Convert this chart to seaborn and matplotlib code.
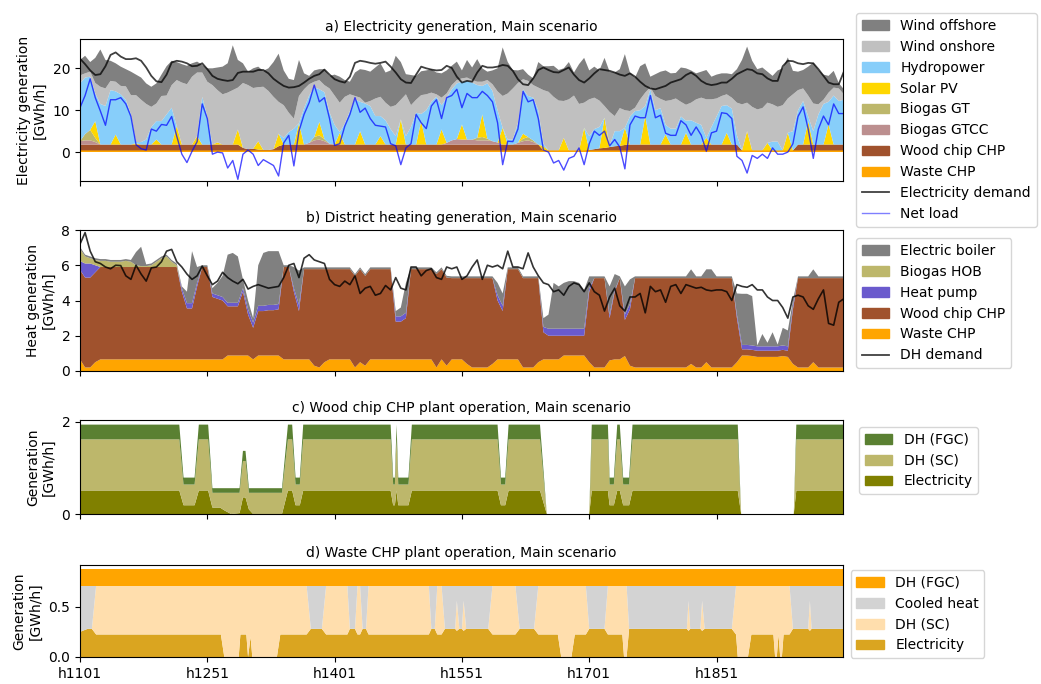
import numpy as np
import matplotlib
matplotlib.use("Agg")
import matplotlib.pyplot as plt
from matplotlib.patches import Patch
from matplotlib.lines import Line2D
import seaborn as sns

# ---------------------------------------------------------------------------
# data at 6-hour steps (h1101 ... h2001)
# ---------------------------------------------------------------------------
hours = list(range(1101, 2002, 6))

# panel a: electricity (GWh/h)
waste_el = [0.4] * 151
wood_el = [
    1.4, 1.4, 1.4, 1.4, 1.4, 1.4, 1.4, 1.4, 1.4, 1.4,
    1.4, 1.4, 1.4, 1.4, 1.4, 1.4, 1.4, 1.4, 1.4, 1.4,
    1.4, 1.4, 1.4, 1.4, 1.4, 1.4, 1.4, 1.4, 1.4, 1.4,
    1.4, 1.4, 0.6, 0.3, 0.4, 0.2, 0.1, 0.1, 0.3, 1.0,
    1.4, 1.4, 1.4, 1.4, 1.4, 1.4, 1.4, 1.4, 1.4, 1.4,
    1.4, 1.4, 1.4, 1.4, 1.4, 1.4, 1.4, 1.4, 1.4, 1.4,
    1.4, 1.4, 1.4, 1.4, 1.4, 1.4, 1.4, 1.4, 1.4, 1.4,
    1.4, 1.4, 1.4, 1.4, 1.4, 1.4, 1.4, 1.4, 1.4, 1.4,
    1.4, 1.4, 1.4, 1.4, 1.4, 1.4, 1.4, 1.4, 1.4, 1.4,
    1.4, 0.0, 0.0, 0.0, 0.0, 0.0, 0.0, 0.0, 0.0, 0.0,
    0.1, 0.3, 0.5, 0.6, 0.8, 1.0, 1.1, 1.3, 1.4, 1.4,
    1.4, 1.4, 1.4, 1.4, 1.4, 1.4, 1.4, 1.4, 1.4, 1.4,
    1.4, 1.4, 1.4, 1.4, 1.4, 1.4, 1.4, 1.4, 1.4, 1.4,
    0.0, 0.0, 0.0, 0.0, 0.0, 0.0, 0.0, 0.0, 0.0, 0.0,
    0.0, 1.4, 1.4, 1.4, 1.4, 1.4, 1.4, 1.4, 1.4, 1.4,
    1.4]
gtcc_el = [
    0.8, 1.0, 1.0, 0.6, 0, 0, 0, 0, 0, 0,
    0, 0, 0, 0, 0, 0, 0, 0, 0, 0,
    0, 0, 0, 0, 0, 0, 0, 0, 0, 0,
    0, 0, 0, 0, 0, 0, 0, 0, 0, 0,
    0, 0, 0, 0, 0, 0.4, 1.0, 1.2, 0.8, 0.2,
    0, 0, 0, 0, 0, 0, 0, 0, 0, 0,
    0, 0, 0, 0, 0, 0, 0, 0, 0, 0,
    0, 0, 0.4, 1.0, 1.3, 1.2, 1.2, 1.2, 1.0, 1.0,
    1.0, 0.8, 0.5, 0, 0, 0, 0.4, 0.8, 1.0, 0.6,
    0, 0, 0, 0, 0, 0, 0, 0, 0, 0,
    0, 0, 0, 0, 0, 0, 0, 0, 0, 0,
    0, 0, 0, 0, 0, 0, 0, 0, 0, 0,
    0, 0, 0, 0, 0, 0, 0, 0, 0, 0,
    0, 0, 0, 0, 0, 0, 0, 0, 0, 0,
    0, 0, 0, 0, 0, 0, 0, 0, 0, 0,
    0]
gt_el = [
    0, 1.5, 2.5, 1.0, 0, 0, 0, 0, 0, 0,
    0, 0, 0, 0, 0, 0, 0, 0, 0, 0,
    0, 0, 0, 0, 0, 0, 0, 0, 0, 0,
    0, 0, 0, 0, 0, 0, 0, 0, 0, 0,
    0, 0, 0, 0, 0, 0, 0.8, 1.0, 0.5, 0,
    0, 0, 0, 0, 0, 0, 0, 0, 0, 0,
    0, 0, 0, 0, 0, 0, 0, 0, 0, 0,
    0, 0, 0, 0, 0, 0, 0, 0, 0.6, 0.8,
    0.4, 0, 0, 0, 0, 0, 0, 0.6, 0.8, 0.4,
    0, 0, 0, 0, 0, 0, 0, 0, 0, 0,
    0, 0, 0, 0, 0, 0, 0, 0, 0, 0,
    0, 0, 0, 0, 0, 0, 0, 0, 0, 0,
    0, 0, 0, 0, 0, 0, 0, 0, 0, 0,
    0, 0, 0, 0, 0, 0, 0, 0, 0, 0,
    0, 0, 0, 0, 0, 0, 0, 0, 0, 0,
    0]
solar_el = [
    0, 0, 0, 4.0, 0, 0, 0, 2.4, 0, 0,
    0, 0.3, 0, 0, 0, 1.2, 0, 0, 0, 4.4,
    0, 0, 0, 2.0, 0, 0, 0, 0.5, 0, 0,
    0, 3.6, 0, 0, 0, 2.0, 0, 0, 0, 3.0,
    0, 0, 0, 5.1, 0, 0, 0, 3.2, 0, 0,
    0, 2.8, 0, 0, 0, 3.2, 0, 0, 0, 2.0,
    0, 0, 0, 6.0, 0, 0, 0, 5.6, 0, 0,
    0, 3.6, 0, 0, 0, 3.6, 0, 0, 0, 5.4,
    0, 0, 0, 4.0, 0, 0, 0, 1.2, 0, 0,
    0, 1.0, 0, 0, 0, 3.0, 0, 0, 0, 5.4,
    0, 0, 0, 7.2, 0, 0, 0, 4.1, 0, 0,
    0, 6.8, 0, 0, 0, 2.4, 0, 0, 0, 2.8,
    0, 0, 0, 1.6, 0, 0, 0, 2.8, 0, 0,
    0, 4.6, 0, 0, 0, 1.8, 0, 0, 0, 4.2,
    0, 0, 0, 5.6, 0, 0, 0, 4.8, 0, 0,
    0]
# upper edges of the hydro, onshore and offshore bands
hydro_top = [
    16.4, 17.8, 18.0, 14, 11.5, 11, 14.8, 14.5, 13.8, 12.5,
    9, 2.4, 2.4, 3, 6, 7.4, 7.4, 9, 10.6, 4,
    1.8, 1.8, 1.8, 3, 13.2, 8.5, 0, 0, 0, 0,
    0, 0, 0, 0, 0, 0, 0, 0, 0, 0,
    3.4, 4.8, 5.6, 6.5, 10.5, 13.5, 15.5, 15, 14.3, 9.5,
    6.5, 4.8, 6.8, 9.8, 12.6, 12, 11.6, 11, 8.6, 8.6,
    7.6, 5.5, 3.8, 3.8, 3.8, 6, 9.4, 9.1, 10, 12,
    13.2, 11.2, 13, 15, 16.4, 16.8, 17, 16.6, 16, 15.8,
    16.4, 14.6, 10, 1.4, 3, 3, 7, 15, 13.4, 13,
    10, 2, 0, 0, 0, 0, 0, 0, 0, 0,
    3.8, 5.5, 6, 6, 1.5, 5, 5, 1.5, 8.5, 9.8,
    10, 11, 15, 10, 10.5, 6.5, 5.6, 5.6, 8.5, 7.5,
    7.6, 7, 6.5, 2.5, 6, 8.5, 11, 11.2, 10.4, 4,
    0, 0, 0, 0, 0, 0, 2.5, 2.5, 0, 0,
    5, 10, 12.2, 8.5, 5, 9, 11.5, 12, 13.5, 12.2,
    12.5]
onshore_top = [
    18.3, 18.8, 19.2, 16.5, 15.6, 15.2, 17, 16.8, 15.8, 15.7,
    13.6, 13.6, 12.5, 11.5, 10.8, 11.6, 13.4, 13.5, 16, 17.2,
    16.6, 16.2, 18, 19, 19, 16.8, 16, 14.8, 13.8, 14.2,
    14.8, 15.4, 16.5, 16, 15.3, 15.5, 15.6, 14.6, 13.2, 12,
    11.2, 9.4, 8.0, 13.4, 15, 16.2, 16.8, 17.2, 16, 15.2,
    13.5, 11.8, 13.2, 13.8, 13.4, 13, 11.8, 12.2, 12.8, 13.2,
    11.8, 10.8, 11.2, 12.5, 13.8, 11.2, 12.5, 13.6, 13.8, 14.2,
    13.8, 13, 14.0, 16, 17.2, 17.6, 17.8, 17.2, 16.8, 16.8,
    17.2, 16.2, 14.5, 13.4, 14, 15.2, 16.5, 17.4, 17, 16,
    15.4, 14.8, 14.4, 13.2, 12.3, 12.2, 12.6, 13.5, 11.5, 11.8,
    12.6, 13, 12.3, 11, 9.6, 8.6, 10.5, 10, 9.8, 10.6,
    12.6, 14.2, 15.5, 13.4, 12.7, 12.2, 12.4, 12.8, 12, 11.3,
    11.8, 12.6, 13, 12.6, 12.6, 12.8, 13.4, 13.8, 13, 11.8,
    11.4, 11.8, 10.8, 10.2, 10.5, 11.8, 11.4, 10.8, 11.2, 12.8,
    13.8, 14.8, 15.2, 13.5, 11.6, 11.4, 12.5, 14.2, 15.4, 15.2,
    13.8]
total_top = [
    22, 23, 21.5, 22.5, 24.5, 22, 21.8, 21.2, 20.4, 19.8,
    19.2, 18.5, 17.8, 16.4, 15.6, 16.4, 18.5, 20.5, 21.8, 21.5,
    21, 20.6, 21.2, 21.6, 20.8, 20, 20, 20.2, 20.4, 21.2,
    25.5, 22, 21.2, 19.2, 20, 20.4, 19.4, 20, 21.5, 23.5,
    19.5, 17.5, 17.2, 22, 18.8, 18.2, 19.5, 19.8, 19.8, 18.2,
    18.5, 18, 17.2, 16.8, 19, 19.8, 19.6, 19.2, 20.2, 21.2,
    19, 19.5, 23, 21.5, 18.6, 18.4, 18.2, 19.3, 19.5, 19.8,
    19, 18.8, 19.5, 20.6, 21.6, 19.5, 22, 20.2, 22.2, 20,
    19.2, 19.5, 20, 25, 21.5, 19.6, 19.5, 19.8, 18.5, 17.6,
    21.5, 20.5, 20.5, 20.6, 19.6, 20, 21.5, 19, 21, 22.5,
    19.5, 20.4, 19.5, 22.5, 19.2, 19, 19.8, 23.4, 19, 17.8,
    20.5, 21.2, 18, 18.6, 19.2, 19.5, 18.8, 18.9, 20.2, 20,
    19.5, 18.8, 19.2, 19.6, 18, 18.5, 18.8, 18.8, 18.6, 19.8,
    22, 25.2, 21.8, 19.8, 20.2, 19.2, 18.2, 19.5, 20, 22.6,
    19.4, 19.2, 19.6, 20.4, 21.4, 19.6, 18.5, 18.2, 19.4, 16.5,
    15]
el_demand = [
    22.3, 21, 19.5, 18.4, 18.6, 20.5, 23.2, 23.8, 22.8, 22.2,
    22.2, 22.4, 21.8, 20.2, 18.2, 16.9, 16.7, 18.5, 21.4, 21.8,
    21.6, 21.2, 20.5, 20.6, 21.2, 19.8, 18.2, 17.5, 17.2, 17.0,
    17.2, 18.9, 19.2, 19.2, 19.2, 19.6, 19.6, 18.8, 17.5, 16.6,
    15.8, 15.4, 15.5, 15.8, 16.6, 17.5, 18.2, 18.6, 19.7, 18.5,
    17.4, 16.9, 16.6, 18, 21.3, 21.8, 21.6, 21.3, 21.1, 21.3,
    21.6, 20.4, 19, 17.4, 16.6, 16.5, 18.5, 20.4, 20, 19.7,
    19.5, 19.6, 20.6, 20.1, 18, 16.6, 17.0, 16.8, 19.0, 20.6,
    20.2, 20.2, 20.4, 20.8, 20.6, 19.4, 17.4, 16.2, 16.0, 17.6,
    19.6, 20.2, 19.6, 19.1, 19.0, 19.6, 20.2, 18.5, 17.2, 16.6,
    17.6, 18.8, 19.8, 19.6, 19.4, 19.0, 18.5, 18.2, 18.8, 18.0,
    16.8, 15.8, 15.2, 15.0, 15.4, 15.8, 16.6, 17.0, 17.4, 18.4,
    19.0, 18.2, 17.0, 16.3, 16.0, 16.2, 16.6, 16.6, 17.5, 18.6,
    19.2, 19.8, 19.6, 18.8, 18.6, 17.6, 17.0, 17.0, 20.5, 21.8,
    21.7, 21.2, 21.0, 21.3, 21.2, 19.8, 18.2, 16.6, 16.2, 16.2,
    19.2]
net_load = [
    10.6, 13.5, 17.5, 13, 9.8, 6.4, 12.5, 12.5, 13, 11.5,
    8.5, 1.8, 0.8, 0.5, 5.5, 5, 6.6, 6.4, 8.5, 3.8,
    -0.5, -2.5, 0.2, 2.5, 11.5, 8, -0.5, 0.0, -0.2, -3.8,
    -2, -6.5, -0.5, 0.5, -0.5, -3.2, -1.8, -2.5, -3.2, -5.7,
    2.2, 4, -3.3, 5, 9, 11.8, 16, 12, 13, 8,
    1.6, 2, 6.2, 9, 13, 9.5, 10.5, 8, 6.4, 6.2,
    6, 2, 1.5, -3, 1, 2, 9, 7, 5.6, 11,
    12.5, 8, 13, 13.5, 15, 10.6, 14, 13, 13, 14.5,
    13.5, 12, 7, -3, 2.6, 2.5, 5.5, 14.5, 12, 12.5,
    8, 0.5, 0, -2.6, -2, -4.3, -1.5, -1, 1, -3,
    2, 5, 4, 5, 1.5, 3, 1.2, -4, 6.5, 8.6,
    8.2, 8.2, 13.5, 8.2, 8.8, 4.5, 4, 4, 7.5, 6.5,
    4, 6, 4, 0.2, 4.6, 5, 9.4, 9.2, 8, -1,
    -2, -5, -0.8, -1.5, -0.5, -1.5, 1, -0.5, -0.5, 0,
    2, 8.5, 10.8, 5.5, -1.5, 5.5, 8.6, 6.5, 11.5, 9.2,
    9.2]

# panel b: district heating (GWh/h)
waste_dh = [
    0.66, 0.2, 0.2, 0.5, 0.66, 0.66, 0.66, 0.66, 0.66, 0.66,
    0.66, 0.66, 0.66, 0.66, 0.66, 0.66, 0.66, 0.66, 0.66, 0.66,
    0.66, 0.66, 0.66, 0.66, 0.66, 0.66, 0.66, 0.66, 0.66, 0.88,
    0.88, 0.88, 0.88, 0.88, 0.66, 0.88, 0.88, 0.88, 0.88, 0.88,
    0.66, 0.66, 0.66, 0.66, 0.66, 0.66, 0.3, 0.2, 0.5, 0.66,
    0.66, 0.66, 0.66, 0.66, 0.2, 0.5, 0.3, 0.66, 0.66, 0.66,
    0.66, 0.66, 0.66, 0.66, 0.66, 0.66, 0.66, 0.66, 0.66, 0.66,
    0.2, 0.66, 0.3, 0.66, 0.66, 0.66, 0.4, 0.2, 0.2, 0.2,
    0.2, 0.4, 0.66, 0.66, 0.66, 0.66, 0.66, 0.2, 0.2, 0.2,
    0.5, 0.66, 0.66, 0.66, 0.66, 0.88, 0.88, 0.88, 0.88, 0.88,
    0.5, 0.2, 0.2, 0.2, 0.6, 0.66, 0.66, 0.85, 0.3, 0.2,
    0.2, 0.2, 0.2, 0.2, 0.2, 0.2, 0.2, 0.2, 0.2, 0.2,
    0.4, 0.2, 0.2, 0.5, 0.2, 0.2, 0.2, 0.2, 0.2, 0.5,
    0.88, 0.88, 0.85, 0.8, 0.8, 0.8, 0.8, 0.8, 0.85, 0.8,
    0.4, 0.2, 0.2, 0.2, 0.5, 0.2, 0.2, 0.2, 0.2, 0.2,
    0.2]
wood_dh = [
    5.08, 5.1, 5.1, 5.1, 5.24, 5.24, 5.24, 5.24, 5.24, 5.24,
    5.24, 5.24, 5.24, 5.24, 5.24, 5.24, 5.24, 5.24, 5.24, 5.24,
    3.84, 2.89, 2.89, 4.14, 5.24, 5.24, 3.54, 3.44, 3.34, 2.79,
    2.79, 2.79, 3.62, 2.32, 1.79, 2.52, 2.52, 2.57, 2.57, 2.62,
    5.24, 5.24, 3.84, 2.74, 5.12, 5.12, 5.48, 5.58, 5.28, 5.12,
    5.12, 5.12, 5.12, 5.12, 5.2, 5.28, 5.1, 5.12, 5.12, 5.12,
    5.12, 5.12, 2.14, 2.14, 2.34, 5.12, 5.12, 5.12, 5.12, 5.12,
    5.3, 5.12, 5.0, 4.61, 4.61, 4.61, 4.87, 5.07, 5.07, 5.07,
    5.07, 4.87, 3.34, 2.74, 5.12, 5.12, 5.12, 5.07, 5.07, 5.07,
    4.77, 1.54, 1.34, 1.34, 1.34, 1.12, 1.12, 1.12, 1.12, 1.12,
    4.0, 5.07, 5.07, 5.07, 2.4, 3.84, 4.61, 2.05, 3.2, 5.07,
    5.07, 5.07, 5.07, 5.07, 5.07, 5.07, 5.07, 5.07, 5.07, 5.07,
    4.87, 5.07, 5.07, 4.77, 5.07, 5.07, 5.07, 5.07, 5.07, 2.5,
    0.35, 0.35, 0.35, 0.35, 0.35, 0.35, 0.35, 0.35, 0.35, 0.35,
    3.1, 5.07, 5.07, 5.07, 4.77, 5.07, 5.07, 5.07, 5.07, 5.07,
    5.07]
hp_dh = [
    0.5, 0.8, 0.8, 0.4, 0, 0, 0, 0, 0, 0,
    0, 0, 0, 0, 0, 0, 0, 0, 0, 0,
    0.2, 0.3, 0.3, 0.2, 0, 0, 0.2, 0.2, 0.2, 0.2,
    0.2, 0.2, 0.2, 0.3, 0.3, 0.3, 0.3, 0.3, 0.3, 0.3,
    0, 0, 0.2, 0.35, 0, 0, 0, 0, 0, 0,
    0, 0, 0, 0, 0, 0, 0, 0, 0, 0,
    0, 0, 0.3, 0.3, 0.3, 0, 0, 0, 0, 0,
    0, 0, 0, 0, 0, 0, 0, 0, 0, 0,
    0, 0, 0.3, 0.3, 0, 0, 0, 0, 0, 0,
    0, 0.3, 0.4, 0.4, 0.4, 0.4, 0.4, 0.4, 0.4, 0.4,
    0.2, 0, 0, 0, 0.2, 0.1, 0, 0.3, 0.3, 0,
    0, 0, 0, 0, 0, 0, 0, 0, 0, 0,
    0, 0, 0, 0, 0, 0, 0, 0, 0, 0.2,
    0.25, 0.25, 0.25, 0.25, 0.25, 0.25, 0.25, 0.25, 0.25, 0.25,
    0.2, 0, 0, 0, 0, 0, 0, 0, 0, 0,
    0]
hob_dh = [
    0.7, 0.4, 0.3, 0.3, 0.35, 0.35, 0.3, 0.3, 0.3, 0.35,
    0.3, 0.1, 0.05, 0.05, 0.1, 0.3, 0.5, 0.6, 0.3, 0.1,
    0, 0, 0, 0, 0, 0, 0, 0, 0, 0,
    0, 0, 0, 0, 0, 0, 0, 0, 0, 0,
    0, 0, 0, 0, 0, 0, 0, 0, 0, 0,
    0, 0, 0, 0, 0, 0, 0, 0, 0, 0,
    0, 0, 0, 0, 0, 0, 0, 0, 0, 0,
    0, 0, 0, 0, 0, 0, 0, 0, 0, 0,
    0, 0, 0, 0, 0, 0, 0, 0, 0, 0,
    0, 0, 0, 0, 0, 0, 0, 0, 0, 0,
    0, 0, 0, 0, 0, 0, 0, 0, 0, 0,
    0, 0, 0, 0, 0, 0, 0, 0, 0, 0,
    0, 0, 0, 0, 0, 0, 0, 0, 0, 0,
    0, 0, 0, 0, 0, 0, 0, 0, 0, 0,
    0, 0, 0, 0, 0, 0, 0, 0, 0, 0,
    0]
boiler_dh = [
    0.1, 0.1, 0.1, 0.1, 0.1, 0.1, 0.1, 0.1, 0.1, 0.1,
    0.1, 0.75, 1.1, 0.1, 0.1, 0.1, 0.1, 0.1, 0.1, 0.1,
    0.1, 0.65, 2.95, 0.9, 0.1, 0.1, 0.3, 0.7, 1.2, 2.73,
    2.83, 2.63, 0.5, 0.5, 0.25, 2.3, 3.0, 3.05, 3.05, 3.0,
    0.1, 0.1, 1.2, 1.95, 0.1, 0.1, 0.1, 0.1, 0.1, 0.1,
    0.1, 0.1, 0.1, 0.1, 0.1, 0.1, 0.1, 0.1, 0.1, 0.1,
    0.1, 0.1, 0.3, 0.5, 1.7, 0.1, 0.1, 0.1, 0.1, 0.1,
    0.1, 0.1, 0.1, 0.1, 0.1, 0.1, 0.1, 0.1, 0.1, 0.1,
    0.1, 0.1, 0.7, 0.7, 0.1, 0.1, 0.1, 0.1, 0.1, 0.1,
    0.1, 0.5, 0.8, 2.6, 2.4, 2.6, 2.7, 2.7, 2.6, 2.2,
    0.67, 0.1, 0.1, 0.1, 1.6, 0.9, 0.1, 1.6, 1.4, 0.1,
    0.1, 0.1, 0.1, 0.1, 0.1, 0.1, 0.1, 0.1, 0.1, 0.1,
    0.5, 0.1, 0.1, 0.5, 0.5, 0.1, 0.1, 0.1, 0.1, 1.2,
    2.9, 2.9, 2.8, 0.05, 0.7, 0.2, 0.8, 0.1, 1.0, 0.9,
    0.3, 0.1, 0.1, 0.1, 0.5, 0.1, 0.1, 0.1, 0.1, 0.1,
    0.1]
dh_demand = [
    7.2, 7.85, 6.8, 6.2, 6.1, 5.9, 5.8, 6.0, 5.98, 5.4,
    5.2, 6.0, 5.5, 5.1, 5.85, 5.9, 6.2, 6.8, 6.9, 6.2,
    5.9, 5.5, 5.2, 5.4, 5.95, 5.4, 4.9, 5.1, 5.6, 5.3,
    5.1, 4.95, 5.2, 4.65, 4.8, 4.9, 4.8, 4.7, 4.75, 4.8,
    5.3, 6.0, 6.1, 5.3, 6.4, 6.6, 6.3, 6.2, 6.1, 5.2,
    4.9, 4.8, 5.1, 4.9, 5.4, 4.4, 4.7, 4.8, 4.3, 4.4,
    4.85, 4.6, 5.3, 4.7, 4.6, 5.9, 5.9, 5.4, 5.7, 5.8,
    5.3, 5.2, 5.9, 5.8, 5.9, 5.2, 5.4, 5.9, 6.3, 5.2,
    6.0, 5.9, 6.0, 5.8, 6.8, 5.9, 5.9, 5.8, 6.7, 5.9,
    5.4, 5.0, 4.9, 4.5, 4.6, 4.3, 4.8, 5.0, 4.9, 4.5,
    5.0, 4.5, 4.3, 3.4, 4.2, 4.7, 3.7, 3.4, 4.2, 4.2,
    4.4, 3.3, 4.8, 4.5, 4.6, 3.9, 4.8, 4.9, 4.4, 4.9,
    4.8, 4.7, 4.75, 4.6, 4.55, 4.6, 4.6, 4.5, 4.0, 4.9,
    4.8, 4.75, 4.9, 4.6, 4.6, 4.2, 4.0, 4.0, 3.6, 3.0,
    4.2, 4.3, 4.2, 3.7, 3.5, 4.1, 4.6, 2.7, 2.6, 3.9,
    4.1]

# panel c: wood chip CHP plant (breakpoints in hours)
c_hours = [1101, 1218, 1223, 1236, 1241, 1252, 1257, 1266, 1271, 1279,
           1289, 1293, 1296, 1300, 1305, 1339, 1346, 1351, 1355, 1360,
           1364, 1467, 1470, 1472, 1474, 1476, 1488, 1492, 1593, 1597,
           1602, 1606, 1643, 1651, 1701, 1704, 1723, 1725, 1730, 1734,
           1737, 1741, 1748, 1752, 1876, 1880, 1942, 1945, 2000]
c_elec = [0.51, 0.51, 0.19, 0.19, 0.51, 0.51, 0.14, 0.14, 0.08, 0.0,
          0.02, 0.36, 0.36, 0.10, 0.0, 0.0, 0.51, 0.51, 0.19, 0.19,
          0.51, 0.51, 0.19, 0.19, 0.51, 0.19, 0.19, 0.51, 0.51, 0.19,
          0.19, 0.51, 0.51, 0.0, 0.0, 0.51, 0.51, 0.19, 0.19, 0.51,
          0.51, 0.19, 0.19, 0.51, 0.51, 0.0, 0.0, 0.51, 0.51]
c_sc = [1.11, 1.11, 0.45, 0.45, 1.11, 1.11, 0.32, 0.32, 0.38, 0.46,
        0.44, 0.79, 0.79, 0.36, 0.46, 0.46, 1.11, 1.11, 0.45, 0.45,
        1.11, 1.11, 0.45, 0.45, 1.11, 0.45, 0.45, 1.11, 1.11, 0.45,
        0.45, 1.11, 1.11, 0.0, 0.0, 1.11, 1.11, 0.45, 0.45, 1.11,
        1.11, 0.45, 0.45, 1.11, 1.11, 0.0, 0.0, 1.11, 1.11]
c_fgc = [0.32, 0.32, 0.15, 0.15, 0.32, 0.32, 0.10, 0.10, 0.10, 0.10,
         0.10, 0.22, 0.22, 0.10, 0.10, 0.10, 0.32, 0.32, 0.15, 0.15,
         0.32, 0.32, 0.15, 0.15, 0.32, 0.15, 0.15, 0.32, 0.32, 0.15,
         0.15, 0.32, 0.32, 0.0, 0.0, 0.32, 0.32, 0.15, 0.15, 0.32,
         0.32, 0.15, 0.15, 0.32, 0.32, 0.0, 0.0, 0.32, 0.32]

# panel d: waste CHP plant (breakpoints in hours)
d_hours = [1101, 1110, 1115, 1120, 1267, 1271, 1288, 1290, 1297, 1299,
           1302, 1304, 1333, 1337, 1368, 1373, 1386, 1391, 1416, 1419,
           1425, 1428, 1431, 1434, 1438, 1441, 1512, 1515, 1519, 1522,
           1527, 1531, 1543, 1545, 1548, 1551, 1553, 1556, 1582, 1587,
           1614, 1619, 1636, 1641, 1664, 1668, 1680, 1684, 1697, 1701,
           1719, 1723, 1740, 1742, 1745, 1748, 1816, 1818, 1820, 1832,
           1834, 1837, 1869, 1874, 1876, 1888, 1892, 1918, 1920, 1922,
           1924, 1926, 1928, 1930, 1937, 1941, 1959, 1961, 1963, 2000]
d_elec = [0.25, 0.28, 0.28, 0.224, 0.224, 0.0, 0.0, 0.224, 0.224, 0.0,
          0.2, 0.0, 0.0, 0.224, 0.224, 0.28, 0.28, 0.224, 0.224, 0.28,
          0.28, 0.224, 0.224, 0.28, 0.28, 0.224, 0.224, 0.28, 0.28, 0.224,
          0.224, 0.28, 0.28, 0.26, 0.28, 0.28, 0.26, 0.28, 0.28, 0.224,
          0.224, 0.28, 0.28, 0.224, 0.224, 0.0, 0.0, 0.224, 0.224, 0.28,
          0.28, 0.224, 0.224, 0.0, 0.0, 0.28, 0.28, 0.26, 0.28, 0.28,
          0.26, 0.28, 0.28, 0.224, 0.0, 0.0, 0.224, 0.224, 0.0, 0.0,
          0.224, 0.0, 0.0, 0.224, 0.224, 0.28, 0.28, 0.26, 0.28, 0.28]
d_sc = [0.0, 0.0, 0.0, 0.486, 0.486, 0.71, 0.71, 0.486, 0.486, 0.71,
        0.51, 0.71, 0.71, 0.486, 0.486, 0.0, 0.0, 0.486, 0.486, 0.0,
        0.0, 0.486, 0.486, 0.0, 0.0, 0.486, 0.486, 0.0, 0.0, 0.486,
        0.486, 0.0, 0.0, 0.3, 0.0, 0.0, 0.3, 0.0, 0.0, 0.486,
        0.486, 0.0, 0.0, 0.486, 0.486, 0.71, 0.71, 0.486, 0.486, 0.0,
        0.0, 0.486, 0.486, 0.71, 0.71, 0.0, 0.0, 0.3, 0.0, 0.0,
        0.3, 0.0, 0.0, 0.486, 0.71, 0.71, 0.486, 0.486, 0.71, 0.71,
        0.486, 0.71, 0.71, 0.486, 0.486, 0.0, 0.0, 0.3, 0.0, 0.0]
d_cooled = [0.46, 0.43, 0.43, 0.0, 0.0, 0.0, 0.0, 0.0, 0.0, 0.0,
            0.0, 0.0, 0.0, 0.0, 0.0, 0.43, 0.43, 0.0, 0.0, 0.43,
            0.43, 0.0, 0.0, 0.43, 0.43, 0.0, 0.0, 0.43, 0.43, 0.0,
            0.0, 0.43, 0.43, 0.15, 0.43, 0.43, 0.15, 0.43, 0.43, 0.0,
            0.0, 0.43, 0.43, 0.0, 0.0, 0.0, 0.0, 0.0, 0.0, 0.43,
            0.43, 0.0, 0.0, 0.0, 0.0, 0.43, 0.43, 0.15, 0.43, 0.43,
            0.15, 0.43, 0.43, 0.0, 0.0, 0.0, 0.0, 0.0, 0.0, 0.0,
            0.0, 0.0, 0.0, 0.0, 0.0, 0.43, 0.43, 0.15, 0.43, 0.43]
d_fgc = [0.162] * 80

xtick_hours = [1101, 1251, 1401, 1551, 1701, 1851]
xtick_labels = ["h1101", "h1251", "h1401", "h1551", "h1701", "h1851"]

# ---------------------------------------------------------------------------
W, H = 1041, 684
fig = plt.figure(figsize=(W / 100, H / 100), dpi=100)


def add_ax(top, bottom):
    return fig.add_axes([80 / W, 1 - bottom / H, 763 / W, (bottom - top) / H])


ax_a = add_ax(39, 181)
ax_b = add_ax(230, 371)
ax_c = add_ax(420, 514)
ax_d = add_ax(565, 657)

# ---- a) electricity ----
below = (np.array(waste_el) + np.array(wood_el) + np.array(gtcc_el)
         + np.array(gt_el) + np.array(solar_el))
hydro = np.maximum(np.array(hydro_top) - below, 0)
onshore = np.maximum(np.array(onshore_top) - below - hydro, 0)
offshore = np.maximum(np.array(total_top) - below - hydro - onshore, 0)

a_names = ["Waste CHP", "Wood chip CHP", "Biogas GTCC", "Biogas GT",
           "Solar PV", "Hydropower", "Wind onshore", "Wind offshore"]
a_cols = ["orange", "sienna", "rosybrown", "darkkhaki", "gold",
          "lightskyblue", "silver", "gray"]
ax_a.stackplot(hours, waste_el, wood_el, gtcc_el, gt_el, solar_el,
               hydro, onshore, offshore, colors=a_cols)
sns.lineplot(x=hours, y=el_demand, ax=ax_a, color="black", alpha=0.75,
             lw=1.3, legend=False)
sns.lineplot(x=hours, y=net_load, ax=ax_a, color="blue", alpha=0.7,
             lw=1.0, legend=False)
ax_a.set_ylim(-6.9, 27)
ax_a.set_yticks([0, 10, 20])
ax_a.set_ylabel("Electricity generation\n[GWh/h]")
ax_a.set_title("a) Electricity generation, Main scenario", fontsize=10)
h_a = [Patch(color=c, label=n) for n, c in zip(a_names, a_cols)][::-1]
h_a += [Line2D([], [], color="black", alpha=0.75, lw=1.3, label="Electricity demand"),
        Line2D([], [], color="blue", alpha=0.5, lw=1.0, label="Net load")]
ax_a.legend(handles=h_a, loc="center left", bbox_to_anchor=(1.008, 0.43))

# ---- b) district heating ----
b_names = ["Waste CHP", "Wood chip CHP", "Heat pump", "Biogas HOB", "Electric boiler"]
b_cols = ["orange", "sienna", "slateblue", "darkkhaki", "gray"]
ax_b.stackplot(hours, waste_dh, wood_dh, hp_dh, hob_dh, boiler_dh, colors=b_cols)
sns.lineplot(x=hours, y=dh_demand, ax=ax_b, color="black", alpha=0.8,
             lw=1.2, legend=False)
ax_b.set_ylim(0, 8)
ax_b.set_yticks([0, 2, 4, 6, 8])
ax_b.set_ylabel("Heat generation\n[GWh/h]")
ax_b.set_title("b) District heating generation, Main scenario", fontsize=10)
h_b = [Patch(color=c, label=n) for n, c in zip(b_names, b_cols)][::-1]
h_b += [Line2D([], [], color="black", alpha=0.75, lw=1.3, label="DH demand")]
ax_b.legend(handles=h_b, loc="center left", bbox_to_anchor=(1.008, 0.482))

# ---- c) wood chip CHP ----
c_names = ["Electricity", "DH (SC)", "DH (FGC)"]
c_cols = ["olive", "darkkhaki", "#5a8032"]
ax_c.stackplot(c_hours, c_elec, c_sc, c_fgc, colors=c_cols)
ax_c.set_ylim(0, 2.04)
ax_c.set_yticks([0, 2])
ax_c.set_ylabel("Generation\n[GWh/h]")
ax_c.set_title("c) Wood chip CHP plant operation, Main scenario", fontsize=10)
h_c = [Patch(color=c, label=n) for n, c in zip(c_names, c_cols)][::-1]
ax_c.legend(handles=h_c, loc="center left", bbox_to_anchor=(1.012, 0.569))

# ---- d) waste CHP ----
d_names = ["Electricity", "DH (SC)", "Cooled heat", "DH (FGC)"]
d_cols = ["goldenrod", "navajowhite", "lightgray", "orange"]
ax_d.stackplot(d_hours, d_elec, d_sc, d_cooled, d_fgc, colors=d_cols)
ax_d.set_ylim(0, 0.915)
ax_d.set_yticks([0.0, 0.5])
ax_d.set_ylabel("Generation\n[GWh/h]")
ax_d.set_title("d) Waste CHP plant operation, Main scenario", fontsize=10)
h_d = [Patch(color=c, label=n) for n, c in zip(d_names, d_cols)][::-1]
ax_d.legend(handles=h_d, loc="center left", bbox_to_anchor=(1.001, 0.467))

for ax in (ax_a, ax_b, ax_c, ax_d):
    ax.set_xlim(1101, 2000)
    ax.set_xticks(xtick_hours)
    ax.set_xlabel("")
for ax in (ax_a, ax_b, ax_c):
    ax.set_xticklabels([])
ax_d.set_xticklabels(xtick_labels)

fig.savefig("out.png", dpi=100)
